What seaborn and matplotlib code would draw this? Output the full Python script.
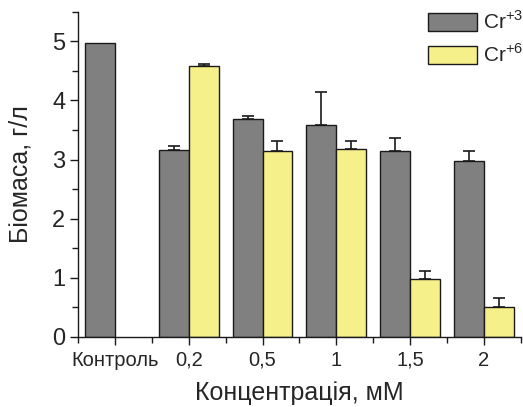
import numpy as np
import pandas as pd
import seaborn as sns
import matplotlib.pyplot as plt
from matplotlib.ticker import MultipleLocator, FixedLocator
from matplotlib.patches import Patch

# Data
categories = ['Контроль', '0,2', '0,5', '1', '1,5', '2']
cr3_values = [4.97, 3.17, 3.68, 3.59, 3.14, 2.97]
cr3_errors = [0.0, 0.06, 0.05, 0.56, 0.23, 0.17]
cr6_values = [np.nan, 4.58, 3.14, 3.18, 0.98, 0.50]
cr6_errors = [0.0, 0.03, 0.17, 0.13, 0.14, 0.16]
series = ['Cr+3', 'Cr+6']
legend_labels = ['Cr$^{\\mathregular{+3}}$', 'Cr$^{\\mathregular{+6}}$']
colors = ['#808080', '#F5F08A']

df = pd.DataFrame({
    'conc': categories * 2,
    'value': cr3_values + cr6_values,
    'err': cr3_errors + cr6_errors,
    'ion': [series[0]] * len(categories) + [series[1]] * len(categories),
})

sns.set_style('ticks')
plt.rcParams['font.family'] = ['Liberation Sans', 'DejaVu Sans']

fig = plt.figure(figsize=(5.23, 4.07), dpi=100)
ax = fig.add_axes([0.149, 0.172, 0.847, 0.799])

sns.barplot(data=df.dropna(), x='conc', y='value', hue='ion', order=categories,
            hue_order=series, palette=colors, width=0.81, edgecolor='#1a1a1a',
            linewidth=1.0, saturation=1, errorbar=None, legend=False, ax=ax)

# one-sided error bars on top of each bar
for cont, name in zip(ax.containers, series):
    sub = df[(df['ion'] == name)].dropna().set_index('conc').reindex(categories).dropna()
    for bar, (_, row) in zip(cont, sub.iterrows()):
        if row['err'] > 0:
            xc = bar.get_x() + bar.get_width() / 2
            ax.errorbar(xc, row['value'], yerr=[[0], [row['err']]], fmt='none',
                        ecolor='#1a1a1a', elinewidth=1.2, capsize=4, capthick=1.2)

ax.set_xlim(-0.5, 5.5)
ax.set_ylim(0, 5.5)
ax.yaxis.set_major_locator(MultipleLocator(1))
ax.yaxis.set_minor_locator(MultipleLocator(0.5))
ax.xaxis.set_minor_locator(FixedLocator(np.arange(-0.5, 6, 1)))
ax.tick_params(axis='both', which='major', direction='out', length=6, width=1, color='#1a1a1a')
ax.tick_params(axis='both', which='minor', direction='out', length=4, width=1, color='#1a1a1a')
ax.tick_params(axis='y', labelsize=17, pad=3)
ax.tick_params(axis='x', labelsize=14.5, pad=4)
sns.despine(ax=ax)
for s in ['left', 'bottom']:
    ax.spines[s].set_color('#1a1a1a')
    ax.spines[s].set_linewidth(1)

ax.set_xlabel('Концентрація, мМ', fontsize=18, labelpad=8)
ax.set_ylabel('Біомаса, г/л', fontsize=18, labelpad=14)

handles = [Patch(facecolor=c, edgecolor='#1a1a1a', linewidth=1.0) for c in colors]
ax.legend(handles, legend_labels, loc='upper right', frameon=False, fontsize=15,
          handlelength=2.35, handleheight=1.0, handletextpad=0.3, borderaxespad=0.0,
          labelspacing=0.5, bbox_to_anchor=(1.025, 1.03))

plt.savefig('out.png', dpi=100)
